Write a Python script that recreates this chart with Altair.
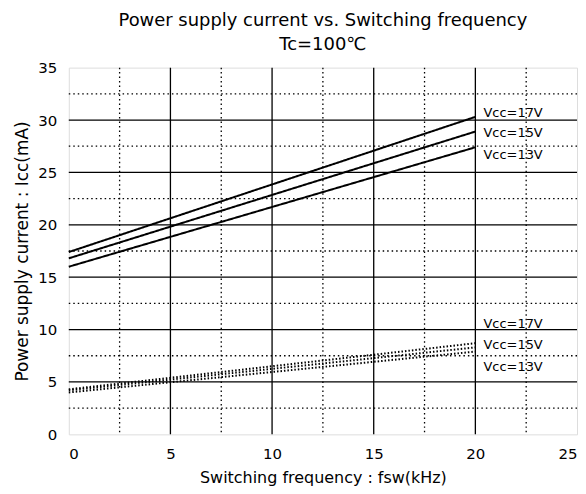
import altair as alt
import pandas as pd

# ---- data ----
freq = [0, 20]
upper_17 = [17.4, 30.3]
upper_15 = [16.8, 28.9]
upper_13 = [16.0, 27.4]
lower_17 = [4.3, 8.7]
lower_15 = [4.2, 8.3]
lower_13 = [4.0, 7.9]

series_names = ["Vcc=17V", "Vcc=15V", "Vcc=13V"]
upper_label_y = [30.7, 28.8, 26.7]
lower_label_y = [10.5, 8.5, 6.4]
label_x = 20.4

major_x = [5, 10, 15, 20]
minor_x = [2.5, 7.5, 12.5, 17.5, 22.5]
major_y = [5, 10, 15, 20, 25, 30]
minor_y = [2.5, 7.5, 12.5, 17.5, 22.5, 27.5, 32.5]

rows = []
for name, ys in zip(series_names, [upper_17, upper_15, upper_13]):
    for f, v in zip(freq, ys):
        rows.append({"f": f, "icc": v, "series": "hi " + name, "style": "solid"})
for name, ys in zip(series_names, [lower_17, lower_15, lower_13]):
    for f, v in zip(freq, ys):
        rows.append({"f": f, "icc": v, "series": "lo " + name, "style": "dotted"})
df = pd.DataFrame(rows)

labels = pd.DataFrame(
    [{"f": label_x, "icc": y, "t": n} for n, y in zip(series_names, upper_label_y)]
    + [{"f": label_x, "icc": y, "t": n} for n, y in zip(series_names, lower_label_y)]
)

FONT = "DejaVu Sans"
xs = alt.Scale(domain=[0, 25], nice=False)
ys = alt.Scale(domain=[0, 35], nice=False)

base_x = alt.X(
    "f:Q", scale=xs,
    axis=alt.Axis(values=[0, 5, 10, 15, 20, 25], grid=False, ticks=False, domain=False,
                  labelFontSize=15, labelFont=FONT, labelColor="black", labelPadding=12,
                  title="Switching frequency : fsw(kHz)", titleFontSize=16,
                  titleFont=FONT, titleFontWeight="normal", titleColor="black",
                  titlePadding=8),
)
base_y = alt.Y(
    "icc:Q", scale=ys,
    axis=alt.Axis(values=[0, 5, 10, 15, 20, 25, 30, 35], grid=False, ticks=False, domain=False,
                  labelFontSize=15, labelFont=FONT, labelColor="black", labelPadding=12,
                  title="Power supply current : Icc(mA)", titleFontSize=17,
                  titleFont=FONT, titleFontWeight="normal", titleColor="black",
                  titlePadding=6),
)

vmaj = alt.Chart(pd.DataFrame({"v": major_x})).mark_rule(color="black", strokeWidth=1.3).encode(
    x=alt.X("v:Q", scale=xs))
vmin = alt.Chart(pd.DataFrame({"v": minor_x})).mark_rule(
    color="black", strokeWidth=1.3, strokeDash=[1.5, 3]).encode(x=alt.X("v:Q", scale=xs))
hmaj = alt.Chart(pd.DataFrame({"v": major_y})).mark_rule(color="black", strokeWidth=1.3).encode(
    y=alt.Y("v:Q", scale=ys))
hmin = alt.Chart(pd.DataFrame({"v": minor_y})).mark_rule(
    color="black", strokeWidth=1.3, strokeDash=[1.5, 3]).encode(y=alt.Y("v:Q", scale=ys))

lines = alt.Chart(df).mark_line(color="black", strokeWidth=2).encode(
    x=base_x, y=base_y,
    detail="series:N",
    strokeDash=alt.StrokeDash("style:N", scale=alt.Scale(domain=["solid", "dotted"],
                                                          range=[[1, 0], [1.5, 2]]),
                              legend=None),
)

text = alt.Chart(labels).mark_text(align="left", baseline="middle", fontSize=13,
                                   font=FONT, color="black").encode(
    x=alt.X("f:Q", scale=xs), y=alt.Y("icc:Q", scale=ys), text="t:N")

chart = alt.layer(vmin, hmin, vmaj, hmaj, lines, text).properties(
    width=510, height=368,
    title=alt.Title(["Power supply current vs. Switching frequency", "Tc=100℃"],
                    fontSize=18, font=FONT, fontWeight="normal", color="black",
                    anchor="middle", offset=7, lineHeight=24),
    padding={"left": 5, "right": 0, "top": 3, "bottom": 5},
).configure_view(stroke="black", strokeWidth=2).configure(background="white")

chart.save("out.html", embed_options={"renderer": "svg", "actions": False})
